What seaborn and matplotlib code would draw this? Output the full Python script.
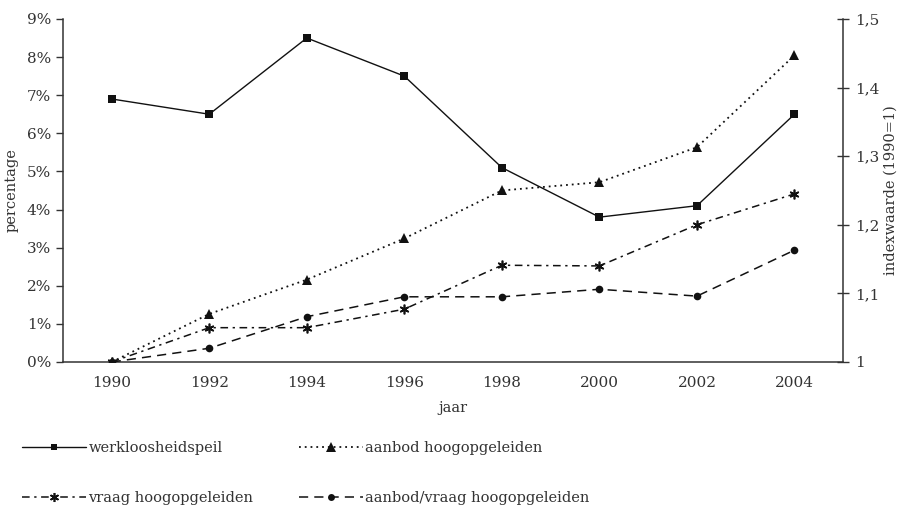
import matplotlib
matplotlib.use("Agg")
import matplotlib.pyplot as plt
from matplotlib.ticker import FixedLocator, FuncFormatter
from matplotlib.lines import Line2D
import seaborn as sns
import pandas as pd

years = [1990, 1992, 1994, 1996, 1998, 2000, 2002, 2004]
werkloosheid = [6.9, 6.5, 8.5, 7.5, 5.1, 3.8, 4.1, 6.5]
aanbod = [1.0, 1.07, 1.12, 1.18, 1.25, 1.262, 1.313, 1.447]
vraag = [1.0, 1.05, 1.05, 1.077, 1.141, 1.14, 1.2, 1.245]
aanbod_vraag = [1.0, 1.02, 1.066, 1.095, 1.095, 1.106, 1.096, 1.163]

left_ticks = [0, 1, 2, 3, 4, 5, 6, 7, 8, 9]
right_ticks = [1.0, 1.1, 1.2, 1.3, 1.4, 1.5]

sns.set_theme(style="white")
plt.rcParams['font.family'] = ['DejaVu Serif']
plt.rcParams['font.size'] = 10

df = pd.DataFrame({"jaar": years, "werkloosheid": werkloosheid, "aanbod": aanbod,
                   "vraag": vraag, "aanbod_vraag": aanbod_vraag})

fig = plt.figure(figsize=(8.99, 5.12), dpi=100)
ax = fig.add_axes([0.070, 0.293, 0.868, 0.670])
ax2 = ax.twinx()

axis_col = "#333333"
txt_col = "#333333"
lc = "#111111"

st_werk = dict(color=lc, lw=1.0, linestyle="-", marker="s", markersize=5.5,
               markeredgewidth=0, markeredgecolor=lc)
st_aanbod = dict(color=lc, lw=1.3, linestyle=(0, (1, 2.2)), marker="^", markersize=7.5,
                 markeredgewidth=0, markeredgecolor=lc)
st_vraag = dict(color=lc, lw=1.1, linestyle=(0, (5, 3, 1.5, 3)), marker=(6, 2, 0), markersize=7,
                markeredgewidth=1.2, markeredgecolor=lc)
st_av = dict(color=lc, lw=1.1, linestyle=(0, (6, 4)), marker="o", markersize=5.5,
             markeredgewidth=0, markeredgecolor=lc)

sns.lineplot(data=df, x="jaar", y="werkloosheid", ax=ax, **st_werk)
sns.lineplot(data=df, x="jaar", y="aanbod", ax=ax2, **st_aanbod)
sns.lineplot(data=df, x="jaar", y="vraag", ax=ax2, **st_vraag)
sns.lineplot(data=df, x="jaar", y="aanbod_vraag", ax=ax2, **st_av)

ax.set_xlim(1989, 2005)
ax.set_ylim(0, 9)
ax2.set_ylim(1.0, 1.5)

ax.xaxis.set_major_locator(FixedLocator(years))
ax.xaxis.set_minor_locator(FixedLocator(list(range(1989, 2006, 2))))
ax.tick_params(axis="x", which="major", length=0, pad=10, labelsize=11, colors=txt_col)
ax.tick_params(axis="x", which="minor", length=10, direction="inout", color=axis_col, width=1)

ax.yaxis.set_major_locator(FixedLocator(left_ticks))
ax.yaxis.set_major_formatter(FuncFormatter(lambda v, p: f"{int(v)}%"))
ax.tick_params(axis="y", which="major", length=5, direction="out", left=True,
               labelsize=11, colors=txt_col, width=1)
ax.tick_params(axis="y", color=axis_col)

ax2.yaxis.set_major_locator(FixedLocator(right_ticks))
ax2.yaxis.set_major_formatter(FuncFormatter(lambda v, p: ("1" if abs(v - 1) < 1e-9 else f"{v:.1f}".replace(".", ","))))
ax2.tick_params(axis="y", length=9, direction="inout", right=True, labelsize=11,
                colors=txt_col, color=axis_col, width=1, pad=4)

for a in (ax, ax2):
    a.spines["top"].set_visible(False)
    for s in ("left", "right", "bottom"):
        a.spines[s].set_color(axis_col)
        a.spines[s].set_linewidth(1.1)
    a.grid(False)
ax2.spines["left"].set_visible(False)
ax2.spines["bottom"].set_visible(False)
ax.spines["right"].set_visible(False)

ax.set_xlabel("jaar", fontsize=10.5, color=txt_col, labelpad=8)
ax.set_ylabel("percentage", fontsize=10.5, color=txt_col, labelpad=6)
ax2.set_ylabel("indexwaarde (1990=1)", fontsize=10.5, color=txt_col, labelpad=3)

def mk(st, ms):
    d = dict(st)
    d["markersize"] = ms
    return Line2D([], [], **d)

handles = [mk(st_werk, 5), mk(st_vraag, 6.5), mk(st_aanbod, 6.5), mk(st_av, 5)]
labels = ["werkloosheidspeil", "vraag hoogopgeleiden", "aanbod hoogopgeleiden", "aanbod/vraag hoogopgeleiden"]
fig.legend(handles, labels, loc="lower left", bbox_to_anchor=(0.01, -0.012), ncol=2, frameon=False,
           fontsize=10.5, labelspacing=2.45, columnspacing=3.1, handlelength=4.4, handletextpad=0.15,
           labelcolor=txt_col)

fig.savefig("out.png", dpi=100)
